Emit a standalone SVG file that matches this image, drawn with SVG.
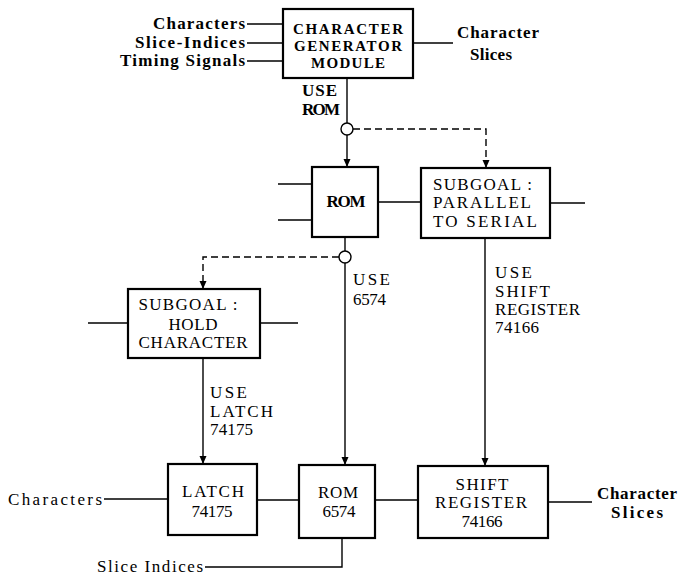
<svg xmlns="http://www.w3.org/2000/svg" width="678" height="575" viewBox="0 0 678 575">
<defs>
<style>
.box{fill:#fff;stroke:#000;stroke-width:2.2}
.ln{fill:none;stroke:#000;stroke-width:1.4}
.dash{fill:none;stroke:#000;stroke-width:1.4;stroke-dasharray:7 4}
text{font-family:"Liberation Serif","Times New Roman",serif;font-size:17px;fill:#000}
.b{font-weight:bold}
.m{text-anchor:middle}
.e{text-anchor:end}
.s{font-size:15px}
</style>
<marker id="ar" viewBox="0 0 8 10" refX="8" refY="5" markerWidth="8" markerHeight="10" markerUnits="userSpaceOnUse" orient="auto">
<path d="M0,1.5 L8,5 L0,8.5 Z" fill="#000"/>
</marker>
</defs>
<rect width="678" height="575" fill="#fff"/>

<g id="connectors">
<line class="ln" x1="247" y1="24" x2="283" y2="24"/>
<line class="ln" x1="247" y1="43" x2="283" y2="43"/>
<line class="ln" x1="247" y1="61" x2="283" y2="61"/>
<line class="ln" x1="413" y1="43" x2="453" y2="43"/>
<line class="ln" x1="347" y1="78" x2="347" y2="123"/>
<circle class="ln" cx="347" cy="129" r="6"/>
<line class="ln" x1="347" y1="135" x2="347" y2="167" marker-end="url(#ar)"/>
<polyline class="dash" points="353,129 486,129 486,168" marker-end="url(#ar)"/>
<line class="ln" x1="278" y1="184" x2="312" y2="184"/>
<line class="ln" x1="278" y1="220" x2="312" y2="220"/>
<line class="ln" x1="378" y1="202" x2="421" y2="202"/>
<line class="ln" x1="550" y1="203" x2="585" y2="203"/>
<line class="ln" x1="345" y1="237" x2="345" y2="251"/>
<circle class="ln" cx="345" cy="257" r="6"/>
<polyline class="dash" points="339,257 203,257 203,289" marker-end="url(#ar)"/>
<line class="ln" x1="345" y1="263" x2="345" y2="465" marker-end="url(#ar)"/>
<line class="ln" x1="485" y1="238" x2="485" y2="466" marker-end="url(#ar)"/>
<line class="ln" x1="88" y1="323" x2="128" y2="323"/>
<line class="ln" x1="260" y1="323" x2="298" y2="323"/>
<line class="ln" x1="203" y1="358" x2="203" y2="464" marker-end="url(#ar)"/>
<line class="ln" x1="104" y1="499" x2="168" y2="499"/>
<line class="ln" x1="257" y1="500" x2="299" y2="500"/>
<line class="ln" x1="375" y1="500" x2="418" y2="500"/>
<line class="ln" x1="548" y1="502" x2="592" y2="502"/>
<polyline class="ln" points="205,567 342,567 342,538"/>
</g>

<g id="labels">
<text class="e b" x="245" y="29" textLength="92">Characters</text>
<text class="e b" x="245" y="48" textLength="110">Slice-Indices</text>
<text class="e b" x="245" y="66" textLength="125">Timing Signals</text>
<text class="b" x="457" y="38" textLength="82">Character</text>
<text class="b" x="470" y="60" textLength="42">Slices</text>
<text class="b" x="302" y="96" textLength="35">USE</text>
<text class="b" x="302" y="115" textLength="38">ROM</text>
<text x="353" y="285" textLength="37">USE</text>
<text x="353" y="305" textLength="33">6574</text>
<text x="495" y="278" textLength="37">USE</text>
<text x="495" y="297" textLength="55">SHIFT</text>
<text x="495" y="315" textLength="85">REGISTER</text>
<text x="495" y="333" textLength="44">74166</text>
<text x="210" y="398" textLength="37">USE</text>
<text x="210" y="417" textLength="63">LATCH</text>
<text x="210" y="435" textLength="43">74175</text>
<text class="e" x="102" y="505" textLength="94">Characters</text>
<text class="e" x="203" y="572" textLength="106">Slice Indices</text>
<text class="b" x="597" y="499" textLength="80">Character</text>
<text class="b" x="611" y="518" textLength="52">Slices</text>
</g>

<g id="cgm">
<rect class="box" x="283" y="9" width="130" height="69"/>
<text class="m b s" x="348" y="34" textLength="110">CHARACTER</text>
<text class="m b s" x="348" y="51" textLength="108">GENERATOR</text>
<text class="m b s" x="348" y="68" textLength="74">MODULE</text>
</g>

<g id="rom">
<rect class="box" x="312" y="167" width="66" height="70"/>
<text class="m b" x="346" y="207" textLength="39">ROM</text>
</g>

<g id="subgoal-parallel">
<rect class="box" x="421" y="168" width="129" height="70"/>
<text x="433" y="190" textLength="99">SUBGOAL :</text>
<text x="433" y="208" textLength="98">PARALLEL</text>
<text x="433" y="227" textLength="104">TO SERIAL</text>
</g>

<g id="subgoal-hold">
<rect class="box" x="128" y="289" width="132" height="69"/>
<text class="m" x="188" y="310" textLength="99">SUBGOAL :</text>
<text class="m" x="193" y="330" textLength="49">HOLD</text>
<text class="m" x="193" y="348" textLength="109">CHARACTER</text>
</g>

<g id="latch">
<rect class="box" x="168" y="464" width="89" height="71"/>
<text class="m" x="213" y="497" textLength="62">LATCH</text>
<text class="m" x="212" y="517" textLength="41">74175</text>
</g>

<g id="rom6574">
<rect class="box" x="299" y="465" width="76" height="73"/>
<text class="m" x="338" y="498" textLength="40">ROM</text>
<text class="m" x="339" y="517" textLength="33">6574</text>
</g>

<g id="shift-register">
<rect class="box" x="418" y="466" width="130" height="72"/>
<text class="m" x="482" y="490" textLength="53">SHIFT</text>
<text class="m" x="481" y="508" textLength="92">REGISTER</text>
<text class="m" x="482" y="527" textLength="41">74166</text>
</g>
</svg>
